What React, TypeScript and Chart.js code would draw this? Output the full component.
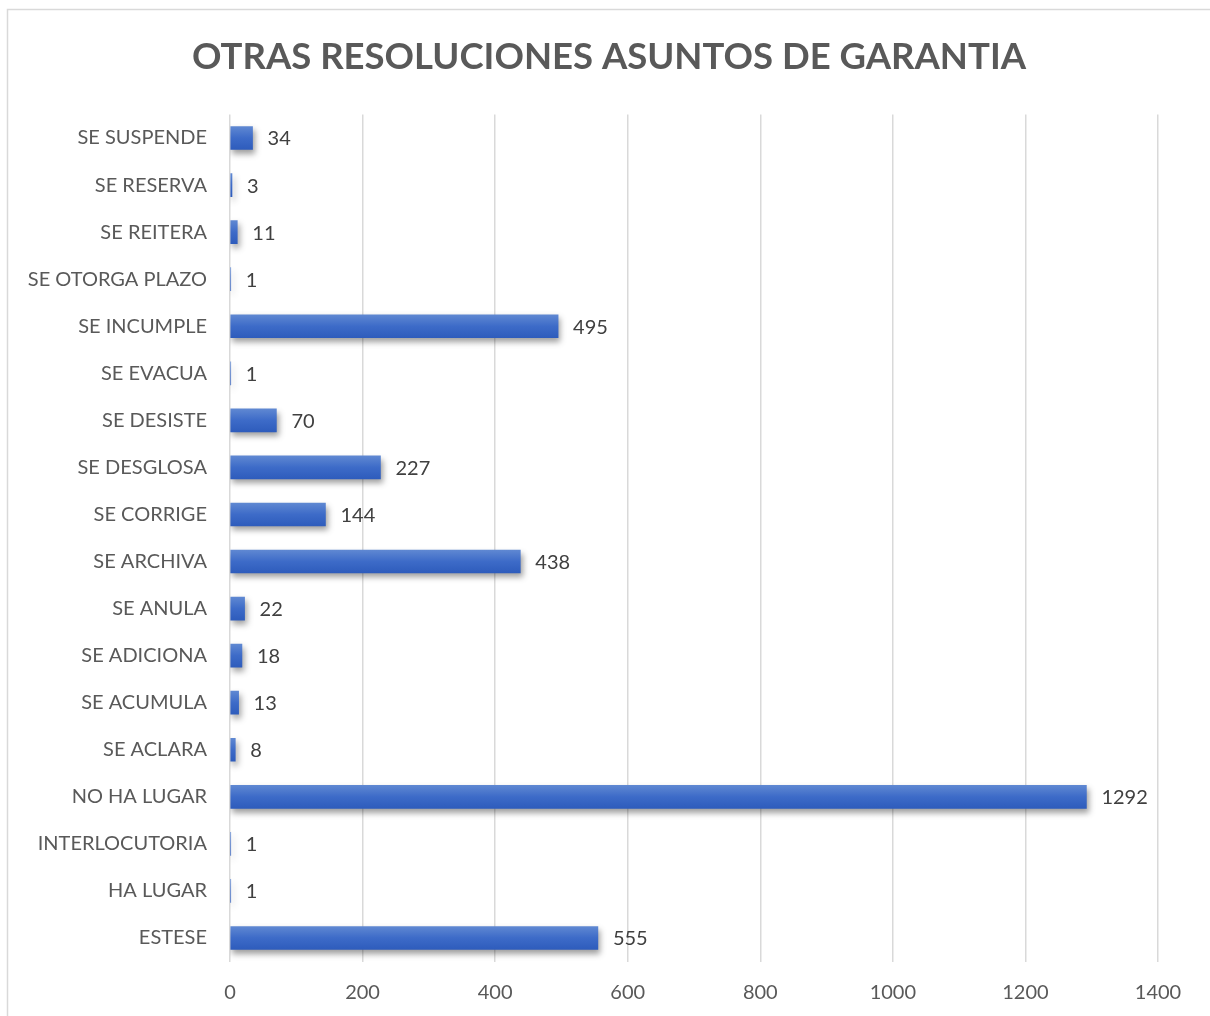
import React, { useEffect, useRef } from "react";
import { Chart, registerables } from "chart.js";

Chart.register(...registerables);

const categories = [
  "SE SUSPENDE",
  "SE RESERVA",
  "SE REITERA",
  "SE OTORGA PLAZO",
  "SE INCUMPLE",
  "SE EVACUA",
  "SE DESISTE",
  "SE DESGLOSA",
  "SE CORRIGE",
  "SE ARCHIVA",
  "SE ANULA",
  "SE ADICIONA",
  "SE ACUMULA",
  "SE ACLARA",
  "NO HA LUGAR",
  "INTERLOCUTORIA",
  "HA LUGAR",
  "ESTESE",
];
const values = [34, 3, 11, 1, 495, 1, 70, 227, 144, 438, 22, 18, 13, 8, 1292, 1, 1, 555];
const titleText = "OTRAS RESOLUCIONES ASUNTOS DE GARANTIA";
const xMin = 0;
const xMax = 1400;
const xStep = 200;

const FONT = "Lato, 'Open Sans', sans-serif";
const BAR_H = 23;

export default function App() {
  const ref = useRef<HTMLCanvasElement | null>(null);

  useEffect(() => {
    document.body.style.margin = "0";
    document.body.style.overflow = "hidden";
    const canvas = ref.current;
    if (!canvas) return;

    const borderPlugin = {
      id: "outerBorder",
      beforeDraw(chart: any) {
        const c = chart.ctx;
        c.save();
        c.fillStyle = "#ffffff";
        c.fillRect(0, 0, chart.width, chart.height);
        c.strokeStyle = "#d9d9d9";
        c.lineWidth = 1.5;
        c.strokeRect(7.5, 9.5, 1300, 1100);
        c.font = `bold 36.5px ${FONT}`;
        c.fillStyle = "#595959";
        c.textAlign = "center";
        c.textBaseline = "middle";
        c.fillText(titleText, 609, 57);
        c.restore();
      },
    };

    const shadowPlugin = {
      id: "barShadow",
      beforeDatasetDraw(chart: any) {
        const c = chart.ctx;
        c.save();
        c.shadowColor = "rgba(0,0,0,0.38)";
        c.shadowBlur = 6;
        c.shadowOffsetX = 2;
        c.shadowOffsetY = 4;
      },
      afterDatasetDraw(chart: any) {
        chart.ctx.restore();
      },
    };

    const labelPlugin = {
      id: "valueLabels",
      afterDatasetsDraw(chart: any) {
        const c = chart.ctx;
        const meta = chart.getDatasetMeta(0);
        c.save();
        c.font = `20px ${FONT}`;
        c.fillStyle = "#404040";
        c.textAlign = "left";
        c.textBaseline = "middle";
        meta.data.forEach((el: any, i: number) => {
          c.fillText(String(chart.data.datasets[0].data[i]), el.x + 15, el.y + 1);
        });
        c.restore();
      },
    };

    const chart = new Chart(canvas, {
      type: "bar",
      data: {
        labels: categories,
        datasets: [
          {
            data: values,
            barThickness: BAR_H,
            borderWidth: 0,
            backgroundColor: (context: any) => {
              const ch = context.chart;
              const ys = ch.scales && ch.scales.y;
              if (!ys || context.dataIndex === undefined) return "#3f6fc9";
              const y = ys.getPixelForValue(context.dataIndex);
              if (!isFinite(y)) return "#3f6fc9";
              const g = ch.ctx.createLinearGradient(0, y - BAR_H / 2, 0, y + BAR_H / 2);
              g.addColorStop(0, "#5f88d2");
              g.addColorStop(0.5, "#3d6bc8");
              g.addColorStop(1, "#2e5cbc");
              return g;
            },
          },
        ],
      },
      options: {
        indexAxis: "y",
        responsive: false,
        animation: false,
        devicePixelRatio: 1,
        layout: { padding: { left: 0, right: 52, top: 114.5, bottom: 0 } },
        plugins: {
          legend: { display: false },
          tooltip: { enabled: false },
          title: { display: false },
        },
        scales: {
          x: {
            type: "linear",
            min: xMin,
            max: xMax,
            ticks: {
              stepSize: xStep,
              color: "#595959",
              font: { family: FONT, size: 20 },
              padding: 19,
              callback: (v: any) => String(v),
            },
            grid: { color: "#d9d9d9", lineWidth: 1.5, drawTicks: false },
            border: { display: false },
            afterFit(scale: any) {
              scale.height = 54.5;
            },
          },
          y: {
            ticks: {
              color: "#595959",
              font: { family: FONT, size: 20 },
              padding: 23,
              autoSkip: false,
            },
            grid: { display: false, drawTicks: false },
            border: { display: false },
            afterFit(scale: any) {
              scale.width = 230;
            },
          },
        },
      },
      plugins: [borderPlugin, shadowPlugin, labelPlugin],
    } as any);

    return () => chart.destroy();
  }, []);

  return (
    <div style={{ position: "relative", width: 1210, height: 1016 }}>
      <canvas ref={ref} width={1210} height={1016} style={{ display: "block" }} />
    </div>
  );
}
